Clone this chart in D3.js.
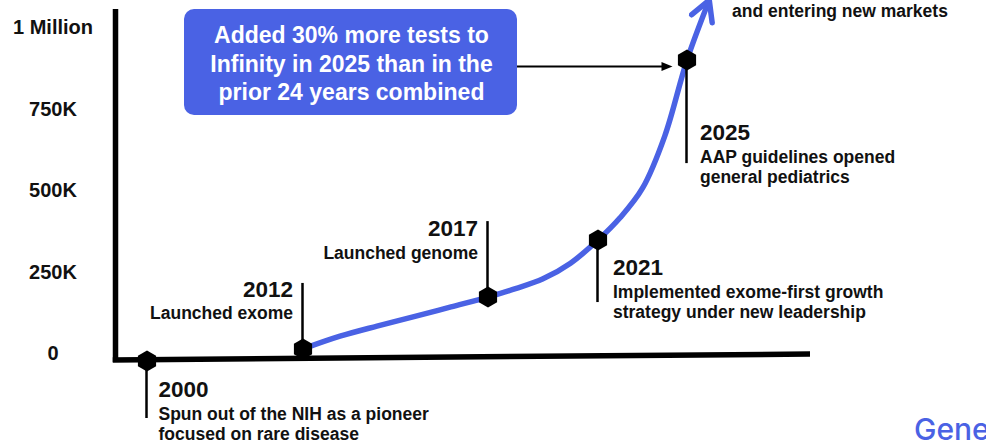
<!DOCTYPE html>
<html>
<head>
<meta charset="utf-8">
<script src="https://cdn.jsdelivr.net/npm/d3@7/dist/d3.min.js"></script>
<style>
    html, body { margin: 0; padding: 0; background: #fff; overflow: hidden; }
    svg { display: block; font-family: 'Liberation Sans', Arial, sans-serif; font-weight: bold; }
</style>
</head>
<body>
<svg id="chart" width="986" height="447"></svg>
<script>
/**
 * Data.
 */
// Cumulative tests along the growth curve
const years = [2012, 2013, 2014, 2015, 2016, 2017, 2018, 2019, 2020, 2021, 2022, 2023, 2024, 2025, 2026];
const tests = [37000, 76000, 107000, 136000, 166000, 196000, 222000, 252000, 300000, 371000, 440000, 530000, 690000, 923000, 1107000];

// Milestones on the timeline
const milestoneYears = [2000, 2012, 2017, 2021, 2025];
const milestoneTitles = ['2000', '2012', '2017', '2021', '2025'];
const milestoneNotes = [
    ['Spun out of the NIH as a pioneer', 'focused on rare disease'],
    ['Launched exome'],
    ['Launched genome'],
    ['Implemented exome-first growth', 'strategy under new leadership'],
    ['AAP guidelines opened', 'general pediatrics']
];

// Y axis
const yTicks = [0, 250000, 500000, 750000, 1000000];
const yTickLabels = ['0', '250K', '500K', '750K', '1 Million'];

// Other texts
const calloutLines = ['Added 30% more tests to', 'Infinity in 2025 than in the', 'prior 24 years combined'];
const topNote = 'and entering new markets';
const logoText = 'Gene';

/**
 * Visual configs.
 */
const blue = '#4a62e4',
    hexRadius = 10.5,
    axisLeft = 115.5, axisTop = 9, axisRight = 810,
    yearSize = 22.5, noteSize = 17.5, noteGap = 20;

// Where each milestone label sits relative to its marker
const labelLayout = [
    { side: 'below', lead: 57, dx: 11.5, dy: 36 },
    { side: 'above', lead: 66, dx: -10, dy: -52 },
    { side: 'above', lead: 76, dx: -10, dy: -61 },
    { side: 'below', lead: 62, dx: 15, dy: 35 },
    { side: 'below', lead: 103, dx: 13, dy: 80 }
];

/**
 * D3.
 */
const svg = d3.select('#chart');

// Years are not evenly spaced along the timeline
const xScale = d3.scaleLinear()
    .domain([2000, 2012, 2017, 2021, 2025])
    .range([147, 303, 488, 598, 687]);

const yScale = d3.scaleLinear()
    .domain([0, 1000000])
    .range([361, 35]);

const series = years.map((yr, i) => ({ year: yr, value: tests[i] }));
const valueAt = yr => {
    const d = series.find(s => s.year === yr);
    return d ? d.value : 0;
};

/**
 * Axes.
 */
const axes = svg.append('g').attr('class', 'axes');

axes.append('line')
    .attr('x1', axisLeft).attr('y1', axisTop)
    .attr('x2', axisLeft).attr('y2', yScale(0) + 1)
    .attr('stroke', '#000').attr('stroke-width', 5.5);

// Baseline drifts slightly upward to the right
axes.append('line')
    .attr('x1', axisLeft - 2.75).attr('y1', yScale(0) - 1)
    .attr('x2', axisRight).attr('y2', yScale(0) - 7)
    .attr('stroke', '#000').attr('stroke-width', 5.5);

axes.selectAll('.tick-label').data(yTicks)
    .enter().append('text')
    .attr('class', 'tick-label')
    .attr('x', 53)
    .attr('y', d => yScale(d) - 1)
    .attr('text-anchor', 'middle')
    .attr('font-size', 20)
    .attr('fill', '#111')
    .text((d, i) => yTickLabels[i]);

/**
 * Growth curve.
 */
svg.append('defs').append('marker')
    .attr('id', 'chevron')
    .attr('viewBox', '-24 -14 28 28')
    .attr('refX', 0).attr('refY', 0)
    .attr('markerWidth', 28).attr('markerHeight', 28)
    .attr('markerUnits', 'userSpaceOnUse')
    .attr('orient', 'auto')
    .append('path')
    .attr('d', 'M-20,-11L0,0L-20,11')
    .attr('fill', 'none')
    .attr('stroke', blue)
    .attr('stroke-width', 5.5)
    .attr('stroke-linecap', 'round')
    .attr('stroke-linejoin', 'round');

const line = d3.line()
    .x(d => xScale(d.year))
    .y(d => yScale(d.value))
    .curve(d3.curveCatmullRom.alpha(0.5));

svg.append('path')
    .datum(series)
    .attr('d', line)
    .attr('fill', 'none')
    .attr('stroke', blue)
    .attr('stroke-width', 5.5)
    .attr('stroke-linecap', 'round')
    .attr('marker-end', 'url(#chevron)');

/**
 * Milestones.
 */
const hexagon = r => d3.line()(d3.range(6).map(k => {
    const a = Math.PI / 3 * k;
    return [r * Math.sin(a), -r * Math.cos(a)];
})) + 'Z';

const milestones = milestoneYears.map((yr, i) => ({
    year: yr,
    x: xScale(yr),
    y: yScale(valueAt(yr)),
    title: milestoneTitles[i],
    notes: milestoneNotes[i],
    layout: labelLayout[i]
}));

const ms = svg.selectAll('.milestone').data(milestones)
    .enter().append('g')
    .attr('class', 'milestone')
    .attr('transform', d => 'translate(' + d.x + ',' + d.y + ')');

ms.append('line')
    .attr('x1', -0.5).attr('x2', -0.5)
    .attr('y1', 0)
    .attr('y2', d => d.layout.side === 'below' ? d.layout.lead : -d.layout.lead)
    .attr('stroke', '#000')
    .attr('stroke-width', 2.5);

ms.append('path')
    .attr('d', hexagon(hexRadius))
    .attr('fill', '#000');

ms.each(function(d) {
    const g = d3.select(this);
    const anchor = d.layout.dx < 0 ? 'end' : 'start';

    g.append('text')
        .attr('x', d.layout.dx)
        .attr('y', d.layout.dy)
        .attr('text-anchor', anchor)
        .attr('font-size', yearSize)
        .attr('fill', '#111')
        .text(d.title);

    g.selectAll('.note').data(d.notes)
        .enter().append('text')
        .attr('class', 'note')
        .attr('x', d.layout.dx)
        .attr('y', (n, i) => d.layout.dy + 22.5 + i * noteGap)
        .attr('text-anchor', anchor)
        .attr('font-size', noteSize)
        .attr('fill', '#111')
        .text(n => n);
});

/**
 * Callout box pointing at 2025.
 */
const box = { x: 184, y: 9, w: 333, h: 106 };
const callout = svg.append('g').attr('class', 'callout');

callout.append('rect')
    .attr('x', box.x).attr('y', box.y)
    .attr('width', box.w).attr('height', box.h)
    .attr('rx', 10)
    .attr('fill', blue);

callout.selectAll('text').data(calloutLines)
    .enter().append('text')
    .attr('x', box.x + box.w / 2 + 1)
    .attr('y', (d, i) => box.y + 34 + i * 28.5)
    .attr('text-anchor', 'middle')
    .attr('font-size', 23)
    .attr('fill', '#fff')
    .text(d => d);

const target = milestones[milestones.length - 1];
const ay = target.y + 6.5,
    tipX = target.x - hexRadius - 4;

callout.append('line')
    .attr('x1', box.x + box.w).attr('y1', ay)
    .attr('x2', tipX - 8).attr('y2', ay)
    .attr('stroke', '#000').attr('stroke-width', 2);

callout.append('path')
    .attr('d', 'M' + tipX + ',' + ay + 'l-11,-4.5v9Z')
    .attr('fill', '#000');

/**
 * Loose texts.
 */
svg.append('text')
    .attr('x', 732).attr('y', 17)
    .attr('font-size', noteSize)
    .attr('fill', '#111')
    .text(topNote);

svg.append('text')
    .attr('x', 914).attr('y', 440)
    .attr('font-family', 'Inter, Roboto, sans-serif')
    .attr('font-weight', 500)
    .attr('font-size', 30)
    .attr('fill', blue)
    .text(logoText);
</script>
</body>
</html>
